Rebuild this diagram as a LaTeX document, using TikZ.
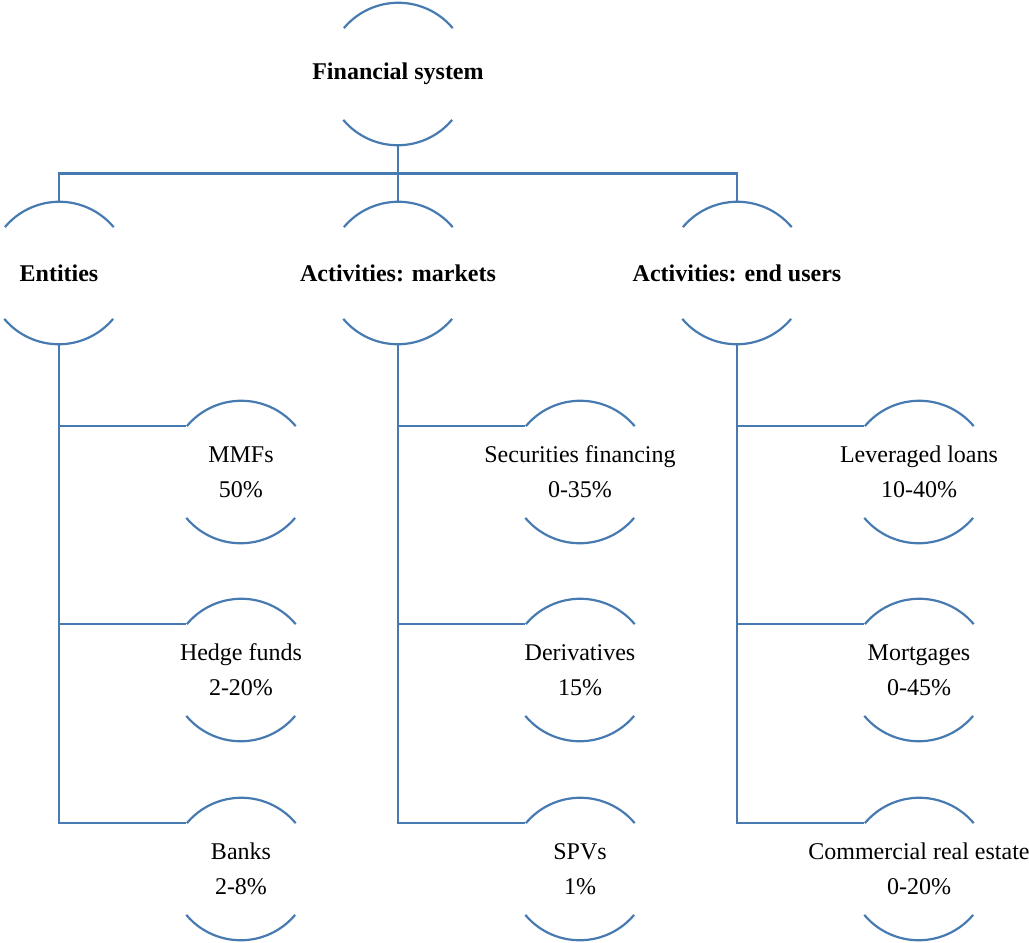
\documentclass[tikz,border=0pt]{standalone}
\usepackage{fontspec}
\setmainfont{Liberation Serif}
\usepackage{xcolor}
\usetikzlibrary{positioning}
\definecolor{ringblue}{RGB}{70,122,176}

\begin{document}
\begin{tikzpicture}[on grid, node distance=99.5pt,
      ring/.style={circle, minimum size=71pt, inner sep=0pt, draw=none},
      el/.style={align=center, font=\fontsize{12}{17.5}\selectfont},
      hd/.style={align=center, font=\fontsize{12}{14}\selectfont\bfseries},
      link/.style={draw=ringblue, line width=1.1pt}]

      \useasboundingbox (-199pt,37pt) rectangle (315.5pt,-434.5pt);

      \node[ring, label={[hd]center:{Financial system}}] (root) {};

      \node[ring, label={[hd]center:{Activities: markets}}] (mkt) [below=of root] {};
      \node[ring, label={[hd]center:{Entities}}] (ent) [left=169.5pt of mkt] {};
      \node[ring, label={[hd]center:{Activities: end users}}] (end) [right=169.5pt of mkt] {};

      \node[ring, label={[el]center:{MMFs\\50\%}}] (mmf) [below right=99.5pt and 91pt of ent] {};
      \node[ring, label={[el]center:{Hedge funds\\2-20\%}}] (hedge) [below=99pt of mmf] {};
      \node[ring, label={[el]center:{Banks\\2-8\%}}] (banks) [below=99.5pt of hedge] {};

      \node[ring, label={[el]center:{Securities financing\\0-35\%}}] (sft) [below right=99.5pt and 91pt of mkt] {};
      \node[ring, label={[el]center:{Derivatives\\15\%}}] (deriv) [below=99pt of sft] {};
      \node[ring, label={[el]center:{SPVs\\1\%}}] (spv) [below=99.5pt of deriv] {};

      \node[ring, label={[el]center:{Leveraged loans\\10-40\%}}] (loans) [below right=99.5pt and 91pt of end] {};
      \node[ring, label={[el]center:{Mortgages\\0-45\%}}] (mort) [below=99pt of loans] {};
      \node[ring, label={[el]center:{Commercial real estate\\0-20\%}}] (cre) [below=99.5pt of mort] {};

      % open rings: top and bottom arcs only
      \foreach \n in {root,ent,mkt,end,mmf,hedge,banks,sft,deriv,spv,loans,mort,cre} {
        \draw[link] (\n.40) arc[start angle=40, end angle=140, radius=35.5pt];
        \draw[link] (\n.220) arc[start angle=220, end angle=320, radius=35.5pt];
      }

      % tree
      \coordinate (bar) at ([yshift=-14pt]root.south);
      \draw[link] (root.south) -- (bar);
      \draw[link] (ent.north) |- (bar) -| (end.north);
      \draw[link] (bar) -- (mkt.north);

      \draw[link] (ent.south) |- (banks.140);
      \draw[link] (ent.south |- mmf.140) -- (mmf.140);
      \draw[link] (ent.south |- hedge.140) -- (hedge.140);

      \draw[link] (mkt.south) |- (spv.140);
      \draw[link] (mkt.south |- sft.140) -- (sft.140);
      \draw[link] (mkt.south |- deriv.140) -- (deriv.140);

      \draw[link] (end.south) |- (cre.140);
      \draw[link] (end.south |- loans.140) -- (loans.140);
      \draw[link] (end.south |- mort.140) -- (mort.140);

    \end{tikzpicture}
\end{document}
